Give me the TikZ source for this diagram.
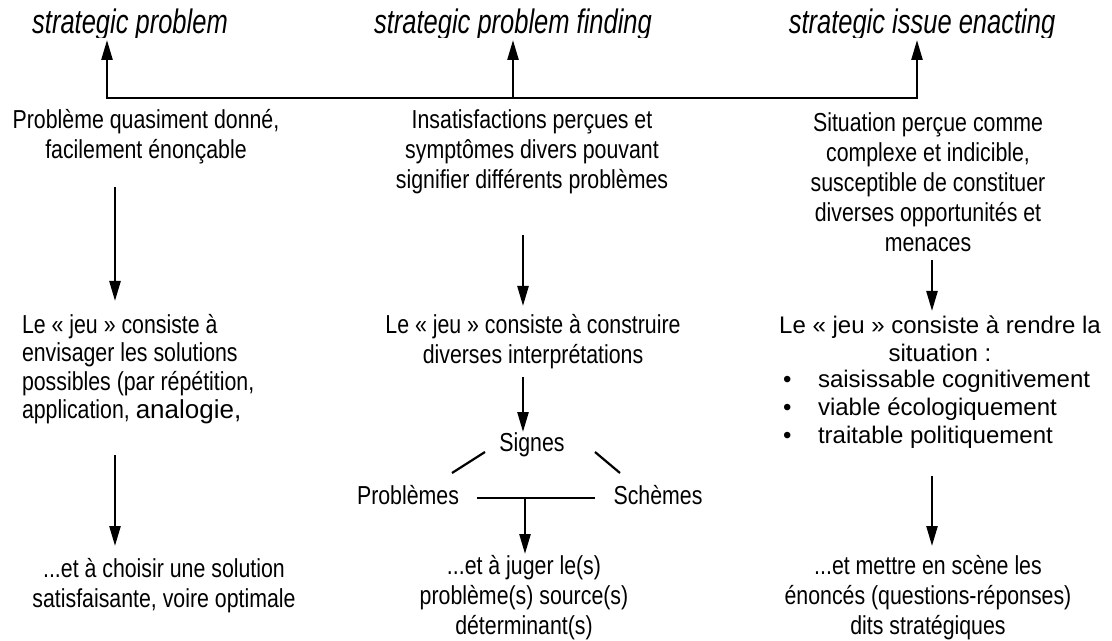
\documentclass[tikz,border=0pt]{standalone}
\usepackage{fontspec}
\setmainfont{Liberation Sans}
\newfontfamily\narrowsans[FakeStretch=0.82]{Liberation Sans}
\newfontfamily\titlesans[FakeStretch=0.75]{Liberation Sans}
\usetikzlibrary{arrows.meta}

\begin{document}
\begin{tikzpicture}[x=1bp,y=-1bp,
  every node/.style={inner sep=0pt, outer sep=0pt},
  body/.style={font=\narrowsans\fontsize{26bp}{30bp}\selectfont, align=center},
  bodyleft/.style={font=\narrowsans\fontsize{26bp}{28.5bp}\selectfont, align=left},
  wide/.style={font=\fontsize{24bp}{27.5bp}\selectfont, align=center},
  title/.style={font=\titlesans\itshape\fontsize{34bp}{38bp}\selectfont, anchor=base},
  link/.style={line width=2.5bp, -{Triangle[length=20bp,width=11bp]}},
  upline/.style={line width=2.5bp, line cap=rect},
  plain/.style={line width=2.2bp}]
\useasboundingbox (0,0) rectangle (1112,641);

% column headings, cut off just under their baseline
\begin{scope}
  \clip (0,0) rectangle (1112,38);
  \node[title] (t1) at (130,34) {strategic problem};
  \node[title] (t2) at (513,34) {strategic problem finding};
  \node[title] (t3) at (922,34) {strategic issue enacting};
\end{scope}

% junction points of the top bracket
\coordinate (j1) at (107,98);
\coordinate (j2) at (513,98);
\coordinate (j3) at (917,98);
\draw[upline] (j1) -- (j3);
\draw[link] (j1) -- (j1 |- 0,40);
\draw[link] (j2) -- (j2 |- 0,40);
\draw[link] (j3) -- (j3 |- 0,40);

% first row: what is perceived
\node[body] (p1) at (146,137) {Problème quasiment donné,\\facilement énonçable};
\node[body] (p2) at (532,152) {Insatisfactions perçues et\\symptômes divers pouvant\\signifier différents problèmes};
\node[body] (p3) at (928,182) {Situation perçue comme\\complexe et indicible,\\susceptible de constituer\\diverses opportunités et\\menaces};

% second row: the "game"
\node[bodyleft, anchor=north west] (q1) at (22,314) {Le « jeu » consiste à\\envisager les solutions\\possibles (par répétition,\\application, {\normalfont\fontsize{26bp}{28.5bp}\selectfont analogie,}};
\node[body] (q2) at (533,342) {Le « jeu » consiste à construire\\diverses interprétations};
\node[wide] (q3) at (940,339) {Le « jeu » consiste à rendre la\\situation :};
\node[font=\fontsize{24bp}{28bp}\selectfont, align=left, anchor=west] (q3list) at (783,409)
  {\makebox[35bp][l]{•}saisissable cognitivement\\
   \makebox[35bp][l]{•}viable écologiquement\\
   \makebox[35bp][l]{•}traitable politiquement};

% interpretation triangle
\node[body] (sg) at (532,445) {Signes};
\node[body] (pb) at (408,495) {Problèmes};
\node[body] (sc) at (658,495) {Schèmes};
\draw[plain] (452,473) -- (485,452);
\draw[plain] (595,452) -- (620,473);
\coordinate (hl) at (477,498);
\coordinate (hr) at (595,498);
\coordinate (hm) at (525,498);
\draw[plain] (hl) -- (hr);

% third row: the outcome
\node[body] (r1) at (164,586) {...et à choisir une solution\\satisfaisante, voire optimale};
\node[body] (r2) at (524,598) {...et à juger le(s)\\problème(s) source(s)\\déterminant(s)};
\node[body] (r3) at (928,598) {...et mettre en scène les\\énoncés (questions-réponses)\\dits stratégiques};

% vertical arrows between rows
\coordinate (a1s) at (115,187); \coordinate (a1e) at (115,301);
\coordinate (a2s) at (115,455); \coordinate (a2e) at (115,546);
\coordinate (b1s) at (523,235); \coordinate (b1e) at (523,306);
\coordinate (b2s) at (523,377); \coordinate (b2e) at (523,432);
\coordinate (b3e) at (525,554);
\coordinate (c1s) at (932,260); \coordinate (c1e) at (932,311);
\coordinate (c2s) at (932,476); \coordinate (c2e) at (932,546);
\draw[link] (a1s) -- (a1e);
\draw[link] (a2s) -- (a2e);
\draw[link] (b1s) -- (b1e);
\draw[link] (b2s) -- (b2e);
\draw[link] (hm) -- (b3e);
\draw[link] (c1s) -- (c1e);
\draw[link] (c2s) -- (c2e);
\end{tikzpicture}
\end{document}
